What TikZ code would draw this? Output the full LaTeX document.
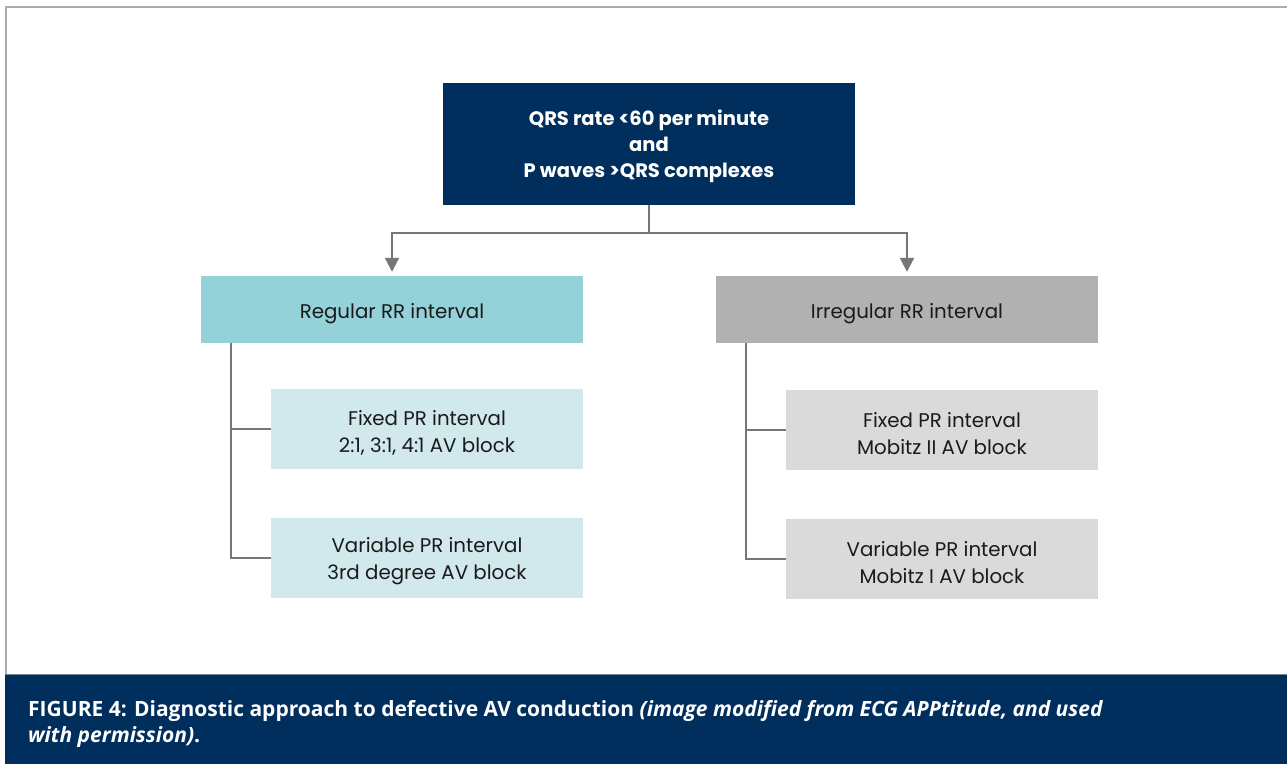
\documentclass[tikz,border=0pt]{standalone}
\usepackage{fontspec}
\setmainfont{Poppins}
\newfontfamily\capfont[Ligatures={NoCommon}]{Open Sans}
\usetikzlibrary{arrows.meta,positioning}
\definecolor{navy}{HTML}{002E5D}
\definecolor{tealbox}{HTML}{94D1D8}
\definecolor{lighttealbox}{HTML}{D1E9ED}
\definecolor{greybox}{HTML}{B1B1B1}
\definecolor{lightgreybox}{HTML}{DADADA}
\definecolor{linegrey}{HTML}{767676}
\definecolor{bordergrey}{HTML}{ABABAB}
\definecolor{txt}{HTML}{1A1A1A}
\tikzset{
  topbox/.style={fill=navy, minimum width=412pt, minimum height=122pt, inner sep=0pt},
  toptext/.style={text=white, align=center, inner sep=0pt, yshift=-2.5pt, font=\fontsize{19.5}{26}\selectfont\bfseries},
  levelbox/.style={minimum width=382pt, minimum height=67pt, inner sep=0pt},
  subbox/.style={minimum width=312pt, minimum height=80pt, inner sep=0pt},
  boxtext/.style={text=txt, align=center, inner sep=0pt, yshift=-4pt, font=\fontsize{19.8}{27}\selectfont},
  conn/.style={draw=linegrey, line width=2pt},
  arr/.style={conn, -{Triangle[width=14pt,length=14pt]}, shorten >=4pt},
  captext/.style={anchor=west, text=white, inner sep=0pt, font=\capfont\fontsize{21}{26}\selectfont\bfseries},
}
\begin{document}
\begin{tikzpicture}[x=1pt,y=-1pt]
\useasboundingbox (0,0) rectangle (1287,764);
\fill[white] (0,0) rectangle (1287,764);
% frame
\draw[bordergrey, line width=2pt] (5.5,674) -- (5.5,6.5) -- (1287,6.5);
\fill[navy] (4.5,674) rectangle (1287,764);
\draw[bordergrey!70!navy, line width=1pt] (4.5,674) -- (1287,674);
% nodes
\node[topbox, label={[toptext]center:{QRS rate <60 per minute\\and\\P waves >QRS complexes}}] (top) at (649,143.5) {};
\node[levelbox, fill=tealbox, label={[boxtext]center:Regular RR interval}] (L1) at (392,309.5) {};
\node[levelbox, fill=greybox, label={[boxtext]center:Irregular RR interval}] (R1) at (907,309.5) {};
\node[subbox, fill=lighttealbox, label={[boxtext]center:{Fixed PR interval\\2:1, 3:1, 4:1 AV block}}] (L2a) at (427,429) {};
\node[subbox, fill=lighttealbox, label={[boxtext]center:{Variable PR interval\\3rd degree AV block}}] (L2b) at (427,557.5) {};
\node[subbox, fill=lightgreybox, label={[boxtext]center:{Fixed PR interval\\Mobitz II AV block}}] (R2a) at (942,430) {};
\node[subbox, fill=lightgreybox, label={[boxtext]center:{Variable PR interval\\Mobitz I AV block}}] (R2b) at (942,558.5) {};
\coordinate (j) at (649,233);
% connectors
\draw[conn] (top.south) -- (j);
\draw[arr] (j) -| (L1.north);
\draw[arr] (j) -| (R1.north);
\draw[conn] ([xshift=30pt]L1.south west) |- (L2b.west);
\draw[conn] ([xshift=30pt]L1.south west |- L2a.west) -- (L2a.west);
\draw[conn] ([xshift=30pt]R1.south west) |- (R2b.west);
\draw[conn] ([xshift=30pt]R1.south west |- R2a.west) -- (R2a.west);
% caption
\node[captext] (cap1) at (28,711) {FIGURE 4: Diagnostic approach to defective AV conduction \textit{(image modified from ECG APPtitude, and used}};
\node[captext] (cap2) at (28,737) {\textit{with permission)}.};
\end{tikzpicture}
\end{document}
